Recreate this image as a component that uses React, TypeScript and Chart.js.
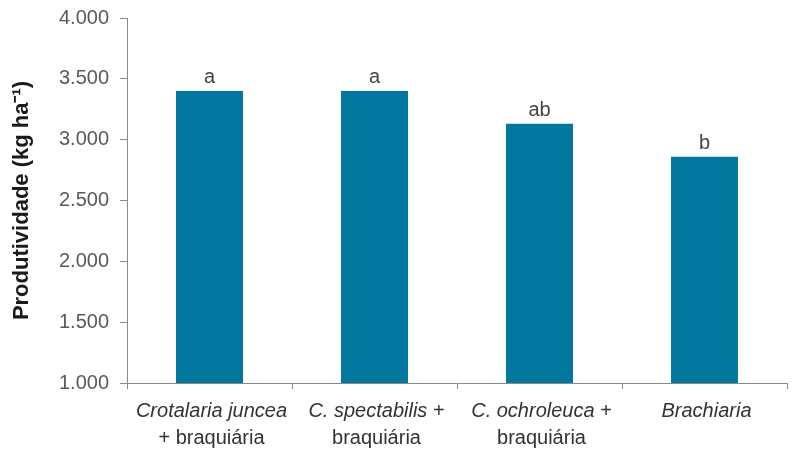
import { useEffect, useRef } from "react";
import { Chart, registerables } from "chart.js";

Chart.register(...registerables);

const categories: string[][] = [
  ["Crotalaria juncea", "+ braquiária"],
  ["C. spectabilis +", "braquiária"],
  ["C. ochroleuca +", "braquiária"],
  ["Brachiaria"],
];
const italicTerms = ["Crotalaria juncea", "C. spectabilis", "C. ochroleuca", "Brachiaria"];
const productivity = [3400, 3400, 3130, 2860];
const significance = ["a", "a", "ab", "b"];
const yTickValues = [1000, 1500, 2000, 2500, 3000, 3500, 4000];
const yTickLabels = ["1.000", "1.500", "2.000", "2.500", "3.000", "3.500", "4.000"];

const FONT = "'Liberation Sans', Arial, sans-serif";

const labelsPlugin = {
  id: "customLabels",
  afterDatasetsDraw(chart: any) {
    const ctx = chart.ctx;
    const meta = chart.getDatasetMeta(0);
    ctx.save();
    ctx.fillStyle = "#444";
    ctx.font = `20px ${FONT}`;
    ctx.textAlign = "center";
    ctx.textBaseline = "alphabetic";
    meta.data.forEach((el: any, i: number) => {
      ctx.fillText(significance[i], el.x, el.y - 8);
    });
    ctx.restore();
  },
  afterDraw(chart: any) {
    const ctx = chart.ctx;
    const xs = chart.scales.x;
    ctx.save();
    ctx.fillStyle = "#333";
    ctx.textBaseline = "middle";
    ctx.textAlign = "left";
    categories.forEach((lines, i) => {
      const cx = xs.getPixelForValue(i) + 2;
      lines.forEach((line, j) => {
        const term = italicTerms[i];
        const segs: { t: string; it: boolean }[] = [];
        const k = line.indexOf(term);
        if (k >= 0) {
          if (k > 0) segs.push({ t: line.slice(0, k), it: false });
          segs.push({ t: term, it: true });
          if (k + term.length < line.length) segs.push({ t: line.slice(k + term.length), it: false });
        } else {
          segs.push({ t: line, it: false });
        }
        let total = 0;
        segs.forEach((s) => {
          ctx.font = `${s.it ? "italic " : ""}20px ${FONT}`;
          total += ctx.measureText(s.t).width;
        });
        let x = cx - total / 2;
        const y = xs.top + 28 + j * 27;
        segs.forEach((s) => {
          ctx.font = `${s.it ? "italic " : ""}20px ${FONT}`;
          ctx.fillText(s.t, x, y);
          x += ctx.measureText(s.t).width;
        });
      });
    });
    ctx.restore();
  },
};

export default function App() {
  const ref = useRef<HTMLCanvasElement>(null);
  useEffect(() => {
    if (!ref.current) return;
    const chart = new Chart(ref.current, {
      type: "bar",
      data: {
        labels: categories.map((c) => c.join(" ")),
        datasets: [
          {
            data: productivity,
            backgroundColor: "#03789F",
            borderWidth: 0,
            categoryPercentage: 1,
            barPercentage: 0.406,
          },
        ],
      },
      options: {
        animation: false,
        responsive: true,
        maintainAspectRatio: false,
        layout: { padding: { top: 18, right: 9, left: 0, bottom: 0 } },
        plugins: { legend: { display: false }, tooltip: { enabled: false } },
        scales: {
          x: {
            offset: true,
            grid: { display: true, offset: true, drawOnChartArea: false, drawTicks: true, tickLength: 6, color: "#8a8a8a" },
            border: { color: "#8a8a8a" },
            ticks: { display: false },
            afterFit(scale: any) {
              scale.height = 79;
            },
          },
          y: {
            min: 1000,
            max: 4000,
            afterBuildTicks(scale: any) {
              scale.ticks = yTickValues.map((v) => ({ value: v }));
            },
            grid: { drawOnChartArea: false, drawTicks: true, tickLength: 7, color: "#8a8a8a" },
            border: { color: "#8a8a8a" },
            ticks: {
              padding: 11,
              color: "#595959",
              font: { family: FONT, size: 20 },
              callback: (v: any) => {
                const idx = yTickValues.indexOf(Number(v));
                return idx >= 0 ? yTickLabels[idx] : "";
              },
            },
            title: {
              display: true,
              text: "Produtividade (kg ha⁻¹)",
              color: "#1a1a1a",
              font: { family: FONT, size: 22, weight: "bold" },
              padding: { top: 9, bottom: 0 },
            },
            afterFit(scale: any) {
              scale.width = 127;
              scale.paddingTop = 0;
              scale.paddingBottom = 0;
            },
          },
        },
      },
      plugins: [labelsPlugin],
    });
    return () => chart.destroy();
  }, []);
  return (
    <div style={{ position: "absolute", left: 0, top: 0, width: 796, height: 462, background: "#fff" }}>
      <canvas ref={ref} />
    </div>
  );
}
